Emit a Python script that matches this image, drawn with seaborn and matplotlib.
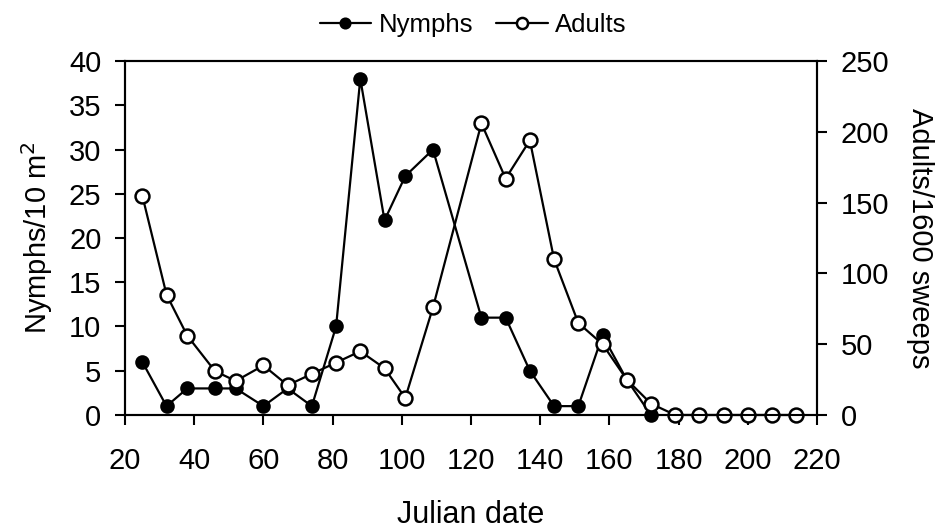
import numpy as np
import pandas as pd
import matplotlib
matplotlib.use("Agg")
import matplotlib.pyplot as plt
import seaborn as sns

# Julian dates of sampling
nymph_days = [25, 32, 38, 46, 52, 60, 67, 74, 81, 88, 95, 101, 109, 123, 130, 137, 144, 151, 158, 165, 172]
nymphs = [6, 1, 3, 3, 3, 1, 3, 1, 10, 38, 22, 27, 30, 11, 11, 5, 1, 1, 9, 4, 0]

adult_days = [25, 32, 38, 46, 52, 60, 67, 74, 81, 88, 95, 101, 109, 123, 130, 137, 144, 151, 158, 165, 172,
              179, 186, 193, 200, 207, 214]
adults = [155, 85, 56, 31, 24, 35, 21, 29, 37, 45, 33, 12, 76, 206, 167, 194, 110, 65, 50, 25, 8,
          0, 0, 0, 0, 0, 0]

x_ticks = [20, 40, 60, 80, 100, 120, 140, 160, 180, 200, 220]

sns.set_style("ticks")
plt.rcParams['font.family'] = ['Liberation Sans', 'DejaVu Sans']
plt.rcParams['text.color'] = 'black'
plt.rcParams['axes.labelcolor'] = 'black'

fig = plt.figure(figsize=(9.37, 5.31), dpi=100)
ax = fig.add_axes([0.1334, 0.2185, 0.7386, 0.6665])
ax2 = ax.twinx()

sns.lineplot(x=nymph_days, y=nymphs, ax=ax, color="black", marker="o", markersize=9,
             markerfacecolor="black", markeredgecolor="black", markeredgewidth=1.5,
             linewidth=1.6, label="Nymphs", legend=False, clip_on=False)
sns.lineplot(x=adult_days, y=adults, ax=ax2, color="black", marker="o", markersize=10,
             markerfacecolor="white", markeredgecolor="black", markeredgewidth=1.8,
             linewidth=1.6, label="Adults", legend=False, clip_on=False)

ax.set_xlim(20, 220)
ax.set_xticks(x_ticks)
ax.set_ylim(0, 40)
ax.set_yticks(range(0, 41, 5))
ax2.set_ylim(0, 250)
ax2.set_yticks(range(0, 251, 50))

for a in (ax, ax2):
    for s in a.spines.values():
        s.set_linewidth(1.5)
        s.set_color("black")
    a.tick_params(direction="out", length=7, width=1.5, labelsize=21, colors="black")
ax.tick_params(axis="x", pad=16)
ax.tick_params(axis="y", pad=10)
ax2.tick_params(axis="y", pad=10)

ax.set_xlabel("Julian date", fontsize=22, labelpad=18)
ax.set_ylabel("Nymphs/10 m$^2$", fontsize=21, labelpad=10)
ax2.set_ylabel("Adults/1600 sweeps", fontsize=21, rotation=270, labelpad=32)

h1, l1 = ax.get_legend_handles_labels()
h2, l2 = ax2.get_legend_handles_labels()
fig.legend(h1 + h2, l1 + l2, loc="upper center", bbox_to_anchor=(0.505, 1.02), ncol=2,
           frameon=False, fontsize=18.5, markerscale=0.8, handlelength=2.0,
           handletextpad=0.3, columnspacing=0.9)

fig.savefig("out.png", dpi=100)
